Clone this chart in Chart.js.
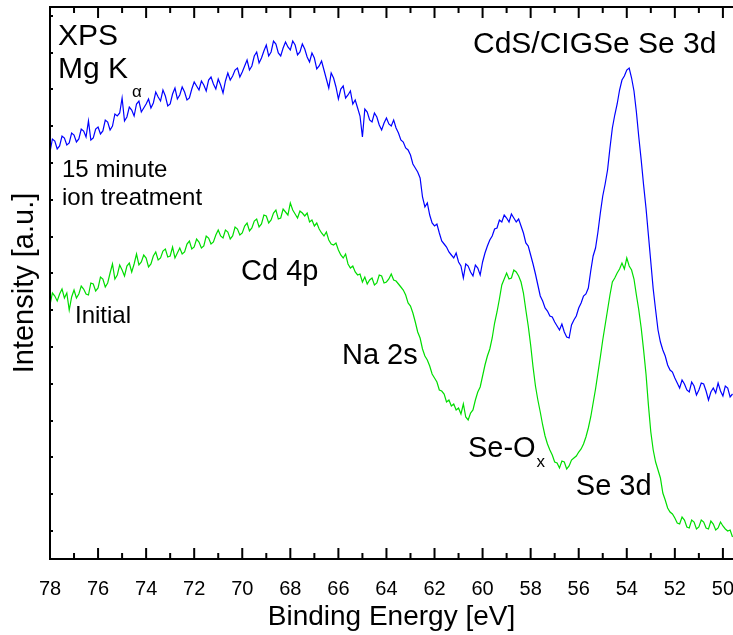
<!DOCTYPE html>
<html>
<head>
<meta charset="utf-8">
<script src="https://cdn.jsdelivr.net/npm/chart.js@4.4.1/dist/chart.umd.min.js"></script>
<style>
  html, body { margin: 0; padding: 0; background: #fff; }
  canvas { display: block; }
</style>
</head>
<body>
<canvas id="chartXps" width="733" height="635"></canvas>
<script>
// Binding energy grid (eV), shared by both spectra
const energy = [
  78.0, 77.9, 77.8, 77.7, 77.6, 77.5, 77.4, 77.3, 77.2, 77.1,
  77.0, 76.9, 76.8, 76.7, 76.6, 76.5, 76.4, 76.3, 76.2, 76.1,
  76.0, 75.9, 75.8, 75.7, 75.6, 75.5, 75.4, 75.3, 75.2, 75.1,
  75.0, 74.9, 74.8, 74.7, 74.6, 74.5, 74.4, 74.3, 74.2, 74.1,
  74.0, 73.9, 73.8, 73.7, 73.6, 73.5, 73.4, 73.3, 73.2, 73.1,
  73.0, 72.9, 72.8, 72.7, 72.6, 72.5, 72.4, 72.3, 72.2, 72.1,
  72.0, 71.9, 71.8, 71.7, 71.6, 71.5, 71.4, 71.3, 71.2, 71.1,
  71.0, 70.9, 70.8, 70.7, 70.6, 70.5, 70.4, 70.3, 70.2, 70.1,
  70.0, 69.9, 69.8, 69.7, 69.6, 69.5, 69.4, 69.3, 69.2, 69.1,
  69.0, 68.9, 68.8, 68.7, 68.6, 68.5, 68.4, 68.3, 68.2, 68.1,
  68.0, 67.9, 67.8, 67.7, 67.6, 67.5, 67.4, 67.3, 67.2, 67.1,
  67.0, 66.9, 66.8, 66.7, 66.6, 66.5, 66.4, 66.3, 66.2, 66.1,
  66.0, 65.9, 65.8, 65.7, 65.6, 65.5, 65.4, 65.3, 65.2, 65.1,
  65.0, 64.9, 64.8, 64.7, 64.6, 64.5, 64.4, 64.3, 64.2, 64.1,
  64.0, 63.9, 63.8, 63.7, 63.6, 63.5, 63.4, 63.3, 63.2, 63.1,
  63.0, 62.9, 62.8, 62.7, 62.6, 62.5, 62.4, 62.3, 62.2, 62.1,
  62.0, 61.9, 61.8, 61.7, 61.6, 61.5, 61.4, 61.3, 61.2, 61.1,
  61.0, 60.9, 60.8, 60.7, 60.6, 60.5, 60.4, 60.3, 60.2, 60.1,
  60.0, 59.9, 59.8, 59.7, 59.6, 59.5, 59.4, 59.3, 59.2, 59.1,
  59.0, 58.9, 58.8, 58.7, 58.6, 58.5, 58.4, 58.3, 58.2, 58.1,
  58.0, 57.9, 57.8, 57.7, 57.6, 57.5, 57.4, 57.3, 57.2, 57.1,
  57.0, 56.9, 56.8, 56.7, 56.6, 56.5, 56.4, 56.3, 56.2, 56.1,
  56.0, 55.9, 55.8, 55.7, 55.6, 55.5, 55.4, 55.3, 55.2, 55.1,
  55.0, 54.9, 54.8, 54.7, 54.6, 54.5, 54.4, 54.3, 54.2, 54.1,
  54.0, 53.9, 53.8, 53.7, 53.6, 53.5, 53.4, 53.3, 53.2, 53.1,
  53.0, 52.9, 52.8, 52.7, 52.6, 52.5, 52.4, 52.3, 52.2, 52.1,
  52.0, 51.9, 51.8, 51.7, 51.6, 51.5, 51.4, 51.3, 51.2, 51.1,
  51.0, 50.9, 50.8, 50.7, 50.6, 50.5, 50.4, 50.3, 50.2, 50.1,
  50.0, 49.9, 49.8, 49.7, 49.6
];

// 15 minute ion treatment (blue)
const treated = [
  40.7, 42.0, 41.8, 41.0, 41.3, 42.3, 42.1, 41.4, 41.6, 42.6,
  42.4, 41.7, 42.0, 43.0, 42.8, 42.2, 43.8, 41.9, 42.1, 43.0,
  43.2, 42.5, 42.8, 43.9, 43.7, 42.9, 43.3, 44.5, 44.3, 44.6,
  46.1, 43.8, 44.2, 45.2, 44.9, 44.3, 45.5, 45.8, 44.7, 45.1,
  45.5, 46.0, 45.1, 45.6, 46.7, 46.2, 45.8, 46.9, 46.3, 45.3,
  45.5, 46.5, 47.1, 46.0, 46.4, 47.2, 46.7, 45.9, 46.1, 47.0,
  47.7, 47.3, 46.9, 47.8, 47.4, 46.8, 47.9, 48.2, 47.5, 47.0,
  48.0, 47.4, 46.6, 47.8, 48.6, 47.9, 48.3, 48.9, 49.1, 48.2,
  48.7, 49.3, 49.9, 48.9, 49.3, 50.3, 50.7, 49.6, 50.1, 50.8,
  51.4, 50.3, 50.7, 51.8, 51.5, 50.6, 50.3, 51.1, 51.7, 51.2,
  50.9, 51.8, 51.4, 50.4, 50.7, 51.5, 51.0, 50.2, 49.7, 50.6,
  50.1, 49.0, 49.3, 49.8, 48.9, 48.0, 47.1, 48.6, 48.1, 47.2,
  46.0, 47.0, 47.3, 46.1, 46.4, 46.8, 45.5, 45.9, 45.1, 44.3,
  42.2, 45.0, 44.7, 43.9, 43.7, 44.6, 44.2, 43.4, 42.9, 43.6,
  44.1, 43.5, 43.3, 43.9, 43.1, 42.6, 41.9, 41.7, 41.1, 40.9,
  40.4, 39.5, 39.1, 38.7, 38.1, 36.2, 35.2, 35.6, 34.4, 33.6,
  33.3, 33.5, 32.6, 31.8, 31.5, 31.2, 30.7, 30.4, 30.1, 30.6,
  29.7, 29.3, 28.1, 29.5, 29.3, 28.7, 28.3, 29.4, 29.1, 28.4,
  29.7, 30.6, 31.3, 31.9, 32.3, 33.0, 33.1, 33.9, 33.7, 34.4,
  34.1, 33.7, 34.5, 34.1, 33.7, 34.0, 33.3, 32.6, 31.6, 31.3,
  30.4, 29.5, 28.5, 27.4, 26.3, 25.8, 25.1, 24.8, 24.3, 24.2,
  23.7, 23.3, 22.9, 23.5, 22.7, 22.2, 22.1, 23.4, 23.9, 24.3,
  25.1, 25.6, 26.3, 26.5, 27.1, 28.8, 30.3, 31.1, 32.7, 34.6,
  36.3, 37.5, 38.9, 41.1, 43.1, 44.4, 45.5, 46.9, 47.9, 48.3,
  48.9, 49.1, 48.1, 46.8, 44.7, 42.2, 39.9, 37.4, 35.1, 32.4,
  29.7, 27.0, 24.9, 22.9, 21.7, 20.9, 20.3, 19.4, 18.9, 18.7,
  18.1, 17.6, 17.1, 17.9, 17.5, 16.9, 16.7, 17.7, 17.3, 16.4,
  16.9, 17.6, 17.5, 16.8, 15.9, 16.7, 17.1, 16.6, 17.6, 16.8,
  16.3, 17.3, 17.1, 16.2, 16.5
];

// Initial (green)
const initial = [
  25.4, 26.6, 26.3, 25.8, 26.5, 27.0, 26.1, 26.6, 24.9, 26.2,
  26.9, 26.1, 26.5, 27.3, 27.0, 26.5, 26.4, 27.6, 27.5, 26.8,
  27.1, 28.2, 28.0, 27.2, 27.6, 28.6, 29.5, 28.0, 28.4, 29.4,
  28.9, 28.3, 29.3, 29.6, 28.7, 29.5, 30.5, 29.4, 29.7, 30.4,
  30.1, 29.2, 29.5, 30.3, 30.7, 29.9, 30.1, 30.8, 31.0, 30.2,
  30.3, 31.2, 30.1, 30.6, 31.1, 30.5, 30.7, 31.5, 31.8, 31.0,
  31.2, 32.0, 31.7, 31.1, 31.3, 32.3, 32.1, 31.5, 31.7, 32.4,
  32.9, 32.3, 32.1, 32.9, 32.7, 32.0, 32.3, 33.2, 33.0, 32.4,
  32.6, 33.3, 33.6, 32.8, 33.1, 33.8, 34.0, 33.2, 33.5, 34.4,
  34.3, 33.6, 33.9, 34.6, 34.9, 34.0, 34.1, 35.0, 34.7, 34.4,
  35.6, 34.9, 34.5, 34.1, 34.8, 34.6, 34.3, 34.6, 33.7, 33.9,
  33.3, 33.6, 33.0, 32.6, 32.3, 32.7, 31.9, 31.5, 31.4, 31.6,
  30.9, 30.4, 30.1, 30.5, 29.5, 29.1, 29.3, 28.7, 28.4, 28.5,
  27.7, 28.2, 27.5, 27.9, 28.1, 27.4, 27.6, 28.4, 28.3, 27.6,
  27.7, 28.0, 28.5, 27.9, 27.8, 27.5, 27.2, 26.9, 26.4, 25.6,
  25.3, 24.6, 23.7, 22.7, 22.1, 21.0, 20.3, 19.9, 19.3, 18.5,
  18.1, 17.7, 16.9, 16.8, 16.5, 15.7, 15.9, 15.3, 15.5, 14.9,
  15.1, 14.5, 15.5, 14.2, 13.9, 14.6, 14.9, 15.9, 16.7, 17.2,
  18.3, 19.4, 20.3, 21.0, 22.1, 23.6, 24.7, 26.0, 27.4, 28.0,
  28.6, 28.0, 28.1, 28.9, 28.7, 28.3, 27.7, 26.6, 24.9, 23.3,
  21.4, 19.2, 17.3, 15.9, 14.7, 13.4, 12.3, 11.5, 10.9, 10.4,
  9.7, 9.6, 9.1, 9.8, 9.7, 9.0, 9.3, 9.9, 10.1, 10.3,
  10.7, 11.0, 11.5, 12.2, 13.1, 14.2, 15.6, 17.0, 18.6, 20.2,
  21.9, 23.4, 24.9, 26.4, 27.7, 28.1, 28.6, 29.0, 29.6, 29.0,
  30.1, 29.3, 28.9, 28.0, 26.4, 24.9, 23.1, 20.9, 18.5, 15.4,
  12.7, 10.9, 9.7, 8.9, 8.1, 6.6, 5.9, 5.1, 4.7, 4.5,
  4.1, 3.6, 3.5, 4.2, 3.9, 3.2, 3.1, 3.9, 3.7, 3.0,
  3.2, 3.9, 3.7, 3.1, 3.0, 3.8, 3.5, 2.9, 3.1, 3.7,
  3.3, 3.0, 2.8, 2.9, 2.2
];

// Axis ticks
const xMajorTicks = [78, 76, 74, 72, 70, 68, 66, 64, 62, 60, 58, 56, 54, 52, 50];
const xMinorTicks = [77, 75, 73, 71, 69, 67, 65, 63, 61, 59, 57, 55, 53, 51];
const yTicks = [2.8, 6.48, 10.16, 13.84, 17.52, 21.2, 24.88, 28.56, 32.24, 35.92, 39.6, 43.28, 46.96, 50.64, 54.32];
const Y_MIN = 0;
const Y_MAX = 55.2;

// Text annotations, anchored at (energy, intensity)
const notes = [
  { text: 'XPS', e: 77.67, i: 51.4, size: 30 },
  { text: 'Mg K', sub: 'α', e: 77.67, i: 48.1, size: 30, subSize: 17, subDy: 19, subGap: 4 },
  { text: 'CdS/CIGSe Se 3d', e: 60.40, i: 50.6, size: 30 },
  { text: '15 minute', e: 77.50, i: 38.2, size: 24 },
  { text: 'ion treatment', e: 77.50, i: 35.4, size: 24 },
  { text: 'Initial', e: 76.96, i: 23.6, size: 24 },
  { text: 'Cd 4p', e: 70.05, i: 27.9, size: 29 },
  { text: 'Na 2s', e: 65.85, i: 19.5, size: 29 },
  { text: 'Se-O', sub: 'x', e: 60.61, i: 10.2, size: 29, subSize: 17, subDy: 10, subGap: 1 },
  { text: 'Se 3d', e: 56.12, i: 6.4, size: 29 }
];

const FONT = '"Liberation Sans", Arial, sans-serif';

function toPoints(ys) {
    return energy.map((e, k) => ({ x: e, y: ys[k] }));
}

// inward tick marks on bottom and top edges, as short segments split by gaps
function tickSegments(values, len) {
    const pts = [];
    values.forEach(v => {
        pts.push({ x: v, y: Y_MIN }, { x: v, y: Y_MIN + len }, { x: v, y: null });
        pts.push({ x: v, y: Y_MAX }, { x: v, y: Y_MAX - len }, { x: v, y: null });
    });
    return pts;
}

// Frame, y ticks and text labels
const framePlugin = {
    id: 'framePlugin',
    afterDraw(chart) {
        const c = chart.ctx;
        const a = chart.chartArea;
        const xs = chart.scales.x;
        const ys = chart.scales.y;
        const L = Math.round(a.left), T = Math.round(a.top), B = Math.round(a.bottom);
        c.save();
        c.fillStyle = '#000';
        c.fillRect(L - 1, T - 1, chart.width - L + 1, 2);
        c.fillRect(L - 1, T - 1, 2, B - T + 2);
        c.fillRect(L - 1, B - 1, chart.width - L + 1, 2);

        yTicks.forEach(v => {
            const py = Math.round(ys.getPixelForValue(v));
            c.fillRect(L, py - 1, 3, 2);
        });

        c.textAlign = 'left';
        c.textBaseline = 'alphabetic';
        notes.forEach(n => {
            const px = xs.getPixelForValue(n.e);
            const py = ys.getPixelForValue(n.i);
            c.font = n.size + 'px ' + FONT;
            c.fillText(n.text, px, py);
            if (n.sub) {
                const w = c.measureText(n.text).width;
                c.font = n.subSize + 'px ' + FONT;
                c.fillText(n.sub, px + w + n.subGap, py + n.subDy);
            }
        });
        c.restore();
    }
};

const ctx = document.getElementById('chartXps').getContext('2d');
new Chart(ctx, {
    type: 'line',
    data: {
        datasets: [{
            label: '15 minute ion treatment',
            data: toPoints(treated),
            borderColor: '#0000ff',
            borderWidth: 1.2,
            pointRadius: 0,
            tension: 0,
            fill: false
        }, {
            label: 'Initial',
            data: toPoints(initial),
            borderColor: '#00dd00',
            borderWidth: 1.2,
            pointRadius: 0,
            tension: 0,
            fill: false
        }, {
            label: 'major ticks',
            data: tickSegments(xMajorTicks, 1.1),
            borderColor: '#000',
            borderWidth: 2,
            pointRadius: 0,
            spanGaps: false,
            fill: false
        }, {
            label: 'minor ticks',
            data: tickSegments(xMinorTicks, 0.6),
            borderColor: '#000',
            borderWidth: 2,
            pointRadius: 0,
            spanGaps: false,
            fill: false
        }]
    },
    options: {
        responsive: false,
        animation: false,
        layout: { padding: { top: 7, left: 0, right: 0, bottom: 0 } },
        plugins: {
            legend: { display: false },
            tooltip: { enabled: false }
        },
        scales: {
            x: {
                type: 'linear',
                reverse: true,
                min: 49.58,
                max: 78,
                grid: { display: false },
                border: { display: false },
                afterBuildTicks: s => {
                    s.ticks = xMajorTicks.map(v => ({ value: v }));
                },
                afterFit: s => {
                    s.height = 76;
                    s.paddingLeft = 0;
                    s.paddingRight = 0;
                },
                ticks: {
                    autoSkip: false,
                    maxRotation: 0,
                    padding: 10,
                    color: '#000',
                    font: { family: FONT, size: 20 }
                },
                title: {
                    display: true,
                    text: 'Binding Energy [eV]',
                    color: '#000',
                    font: { family: FONT, size: 28 },
                    padding: { top: 0, bottom: 1 }
                }
            },
            y: {
                min: Y_MIN,
                max: Y_MAX,
                grid: { display: false },
                border: { display: false },
                afterBuildTicks: s => {
                    s.ticks = yTicks.map(v => ({ value: v }));
                },
                afterFit: s => {
                    s.width = 50;
                    s.paddingTop = 0;
                    s.paddingBottom = 0;
                },
                ticks: { display: false },
                title: {
                    display: true,
                    text: 'Intensity [a.u.]',
                    color: '#000',
                    font: { family: FONT, size: 29 },
                    padding: { top: 8, bottom: 0 }
                }
            }
        }
    },
    plugins: [framePlugin]
});
</script>
</body>
</html>
